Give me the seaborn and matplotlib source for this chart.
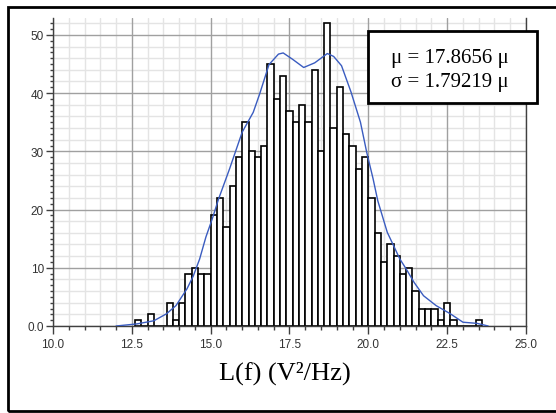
import numpy as np
import matplotlib
matplotlib.use("Agg")
import matplotlib.pyplot as plt
from matplotlib.patches import Rectangle
from matplotlib.ticker import MultipleLocator, FixedLocator, FormatStrFormatter
import seaborn as sns

sns.set_theme(style="white")
plt.rcParams['font.family'] = ['Liberation Sans', 'DejaVu Sans']

# histogram bins (left edges, width 0.2) and counts
bin_left = [12.6, 12.8, 13.0, 13.2, 13.4, 13.6, 13.8, 14.0, 14.2, 14.4, 14.6, 14.8,
            15.0, 15.2, 15.4, 15.6, 15.8, 16.0, 16.2, 16.4, 16.6,
            16.8, 17.0, 17.2, 17.4, 17.6, 17.8, 18.0, 18.2, 18.4, 18.6,
            18.8, 19.0, 19.2, 19.4, 19.6, 19.8,
            20.0, 20.2, 20.4, 20.6, 20.8, 21.0, 21.2, 21.4, 21.6, 21.8, 22.0,
            22.2, 22.4, 22.6, 22.8, 23.0, 23.2, 23.4]
counts = [1, 0, 2, 0, 0, 4, 1, 4, 9, 10, 9, 9,
          19, 22, 17, 24, 29, 35, 30, 29, 31,
          45, 39, 43, 37, 35, 38, 35, 44, 30, 52,
          34, 41, 33, 31, 27, 29,
          22, 16, 11, 14, 12, 9, 10, 6, 3, 3, 3,
          1, 4, 1, 0, 0, 0, 1]
bin_width = 0.2

# smoothed density curve (blue)
curve_x = [12.0, 12.65, 13.2, 13.6, 13.9, 14.25, 14.45, 14.65, 14.85, 15.05, 15.25,
           15.6, 16.0, 16.35, 16.55, 16.85, 17.15, 17.3, 17.6, 17.95, 18.3, 18.7,
           18.9, 19.15, 19.45, 19.75, 19.95, 20.15, 20.3, 20.6, 21.0, 21.2, 21.45,
           21.75, 22.15, 22.6, 23.0, 23.45, 23.8]
curve_y = [0, 0.35, 0.9, 2.1, 3.5, 6.4, 8.6, 11.5, 15.3, 18.4, 21.8,
           27, 33.3, 36.7, 39.8, 44.9, 46.7, 46.9, 45.8, 44.4, 45.2, 46.8,
           46.3, 44.7, 40.2, 35, 29.8, 25.3, 21.5, 16.1, 11.5, 9.8, 7.5,
           5.2, 3.5, 2.1, 0.65, 0.45, 0]

x_ticks = [10.0, 12.5, 15.0, 17.5, 20.0, 22.5, 25.0]
y_ticks = [0, 10, 20, 30, 40, 50]
y_ticklabels = ['0.0', '10', '20', '30', '40', '50']

stats_lines = ["\u03bc = 17.8656 \u03bc", "\u03c3 = 1.79219 \u03bc"]
xlabel = "L(f) (V\u00b2/Hz)"

fig = plt.figure(figsize=(5.56, 4.14), dpi=100)
ax = fig.add_axes([53 / 556, 87 / 414, 473 / 556, 308 / 414])

centers = np.array(bin_left) + bin_width / 2
sns.histplot(x=centers, weights=counts, binwidth=bin_width,
             binrange=(bin_left[0], bin_left[-1] + bin_width),
             color='white', edgecolor='black', linewidth=1.2, alpha=1,
             ax=ax, zorder=2)
sns.lineplot(x=curve_x, y=curve_y, color='#3a5cc0', linewidth=1.0, ax=ax, zorder=3)

ax.set_xlim(10, 25)
ax.set_ylim(0, 52.9)

# grid: light minor lines, darker major lines
ax.set_axisbelow(True)
ax.xaxis.set_major_locator(FixedLocator(x_ticks))
ax.xaxis.set_major_formatter(FormatStrFormatter('%.1f'))
ax.xaxis.set_minor_locator(MultipleLocator(0.5))
ax.yaxis.set_major_locator(FixedLocator(y_ticks))
ax.set_yticklabels(y_ticklabels)
ax.yaxis.set_minor_locator(MultipleLocator(1))
ax.grid(which='major', axis='both', color='#a0a0a0', linewidth=1.0, zorder=0)
ax.grid(which='minor', axis='x', color='#e4e4e4', linewidth=1.0, zorder=0)
for yv in range(2, 54, 2):
    if yv % 10:
        ax.axhline(yv, color='#e4e4e4', linewidth=1.0, zorder=0)

ax.tick_params(which='major', direction='out', length=5, width=1, color='#404040',
               labelsize=8.5, labelcolor='#333333', pad=1.5,
               left=True, bottom=True)
ax.tick_params(which='minor', direction='out', length=2.5, width=1, color='#404040',
               left=True, bottom=True)
ax.tick_params(axis='x', which='major', length=6, pad=3)
ax.tick_params(axis='x', which='minor', length=3)

ax.spines['top'].set_visible(False)
for side in ['left', 'bottom', 'right']:
    ax.spines[side].set_color('#404040')
    ax.spines[side].set_linewidth(1.0)
ax.set_xlabel('')
ax.set_ylabel('')

fig.text(285 / 556, (414 - 380) / 414, xlabel, family=['Liberation Serif', 'DejaVu Serif'],
         fontsize=19, ha='center', va='baseline', color='black')

# stats box
box = Rectangle((368 / 556, (414 - 104) / 414), 169 / 556, 72 / 414,
                transform=fig.transFigure, facecolor='white', edgecolor='black',
                linewidth=2, zorder=5)
fig.add_artist(box)
for i, line in enumerate(stats_lines):
    fig.text(450 / 556, (414 - 63 - 24 * i) / 414, line,
             family=['Liberation Serif', 'DejaVu Serif'], fontsize=15,
             ha='center', va='baseline', color='black', zorder=6)

# outer frame
frame = Rectangle((8 / 556, 2 / 414), 1.2, 404 / 414, transform=fig.transFigure,
                  facecolor='none', edgecolor='black', linewidth=2, zorder=10)
fig.add_artist(frame)

fig.savefig('out.png', dpi=100)
